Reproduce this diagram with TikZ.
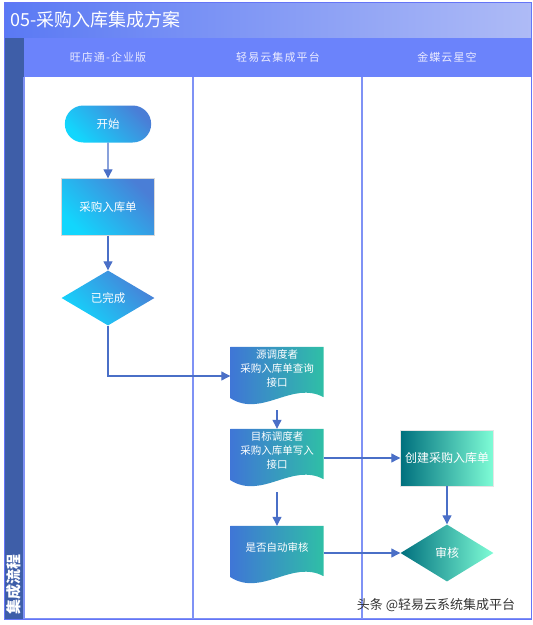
\documentclass[tikz,border=0pt]{standalone}
\usepackage{fontspec}
\setmainfont{Noto Sans CJK SC}
\newfontfamily\lanefont[LetterSpace=10]{Noto Sans CJK SC}
\usetikzlibrary{shapes.geometric,shapes.misc,arrows.meta,backgrounds}

\definecolor{titleL}{HTML}{5A79F4}
\definecolor{titleR}{HTML}{AEBBF6}
\definecolor{headc}{HTML}{6B83FB}
\definecolor{bandc}{HTML}{3E5EA8}
\definecolor{laneline}{HTML}{7F92F5}
\definecolor{arrowc}{HTML}{4A6FC7}
\definecolor{cyanL}{HTML}{12D6FD}
\definecolor{blueR}{HTML}{4A7ED6}
\definecolor{docL}{HTML}{3F76D6}
\definecolor{docM}{HTML}{5B84E2}
\definecolor{docR}{HTML}{2FBFA6}
\definecolor{tealL}{HTML}{00707E}
\definecolor{tealR}{HTML}{7FFDD6}

\newcommand\boxfont{\fontsize{11.5pt}{14pt}\selectfont}
\newcommand\docfont{\fontsize{10.5pt}{14pt}\selectfont}

\begin{document}
\begin{tikzpicture}[x=1pt, y=-1pt,
      lane/.style = {draw=laneline, line width=1.2pt},
      headtxt/.style = {text=white!92!blue, font=\lanefont\fontsize{11pt}{13pt}\selectfont},
      flow/.style = {draw=arrowc, line width=1.1pt, -{Triangle[length=9pt,width=9pt]}},
      cyanfill/.style = {bottom color=cyanL, top color=blueR, shading angle=-45},
      start/.style = {rounded rectangle, cyanfill, minimum width=93pt, minimum height=37pt,
                      text=white, font=\boxfont},
      box/.style = {rectangle, cyanfill, draw=gray!30, minimum width=93pt, minimum height=57pt,
                    text=white, font=\boxfont},
      decide/.style = {diamond, cyanfill, minimum width=93pt, minimum height=55pt, inner sep=0pt,
                       text=white, font=\boxfont},
      doc/.style = {rectangle, minimum width=93pt, minimum height=58pt, inner sep=0pt,
                    align=center, text depth=16pt, text=white, font=\docfont},
      kbox/.style = {rectangle, left color=tealL, right color=tealR, draw=gray!20,
                     minimum width=93pt, minimum height=56pt, text=white,
                     font=\fontsize{12pt}{14pt}\selectfont},
      kdecide/.style = {diamond, left color=tealL, right color=tealR, minimum width=93pt,
                        minimum height=57pt, inner sep=0pt, text=white,
                        font=\fontsize{12pt}{14pt}\selectfont}]
    \useasboundingbox (0,0) rectangle (533,625);

    % frame, title and lanes
    \shade[left color=titleL, right color=titleR] (4,2) rectangle (531,38);
    \fill[headc] (24,38) rectangle (531,77);
    \fill[bandc] (4,38) rectangle (24,619);
    \draw[lane] (24,77) -- (24,619) -- (531,619);
    \draw[lane] (193,77) -- (193,619);
    \draw[lane] (362,77) -- (362,619);
    \draw[laneline!80!blue, line width=1pt] (4,2) rectangle (531,619);

    \node[anchor=west, text=white, font=\fontsize{18pt}{20pt}\selectfont] (title) at (7,20) {05-采购入库集成方案};
    \node[headtxt] (h1) at (108,57) {旺店通-企业版};
    \node[headtxt] (h2) at (278,57) {轻易云集成平台};
    \node[headtxt] (h3) at (447,57) {金蝶云星空};
    \node[rotate=90, text=white, font=\fontsize{15pt}{15pt}\selectfont\bfseries] (band) at (14,584) {集成流程};

    % nodes
    \node[start] (begin) at (108,124) {开始};
    \node[box] (order) at (108,207) {采购入库单};
    \node[decide] (done) at (108,298) {已完成};

    \node[doc] (src) at (277,376) {源调度者\\采购入库单查询\\接口};
    \node[doc] (tgt) at (277,458) {目标调度者\\采购入库单写入\\接口};
    \node[doc] (chk) at (277,555) {是否自动审核};

    \node[kbox] (create) at (447,458) {创建采购入库单};
    \node[kdecide] (audit) at (447,553) {审核};

    \node[text=black!80, font=\fontsize{13pt}{13pt}\selectfont] (mark) at (436,605) {头条 @轻易云系统集成平台};

    % document shapes
    \begin{scope}[on background layer]
      \foreach \d in {src,tgt,chk}
        \shade[left color=docL, middle color=docM, right color=docR]
          (\d.north west) -- (\d.north east) -- ([yshift=8pt]\d.south east)
          .. controls ([xshift=-32pt,yshift=25pt]\d.south east) and ([xshift=32pt,yshift=-13pt]\d.south west)
          .. ([yshift=7pt]\d.south west) -- cycle;
    \end{scope}

    % edges
    \draw[flow] (begin) -- (order);
    \draw[flow] (order) -- (done);
    \draw[flow] (done.south) |- (src.west);
    \draw[flow, shorten <=5pt] (src) -- (tgt);
    \draw[flow] (tgt.east |- create.west) -- (create.west);
    \draw[flow, shorten <=5pt] (tgt) -- (chk);
    \draw[flow] (create) -- (audit);
    \draw[flow] (chk.east |- audit.west) -- (audit.west);

  \end{tikzpicture}
\end{document}
